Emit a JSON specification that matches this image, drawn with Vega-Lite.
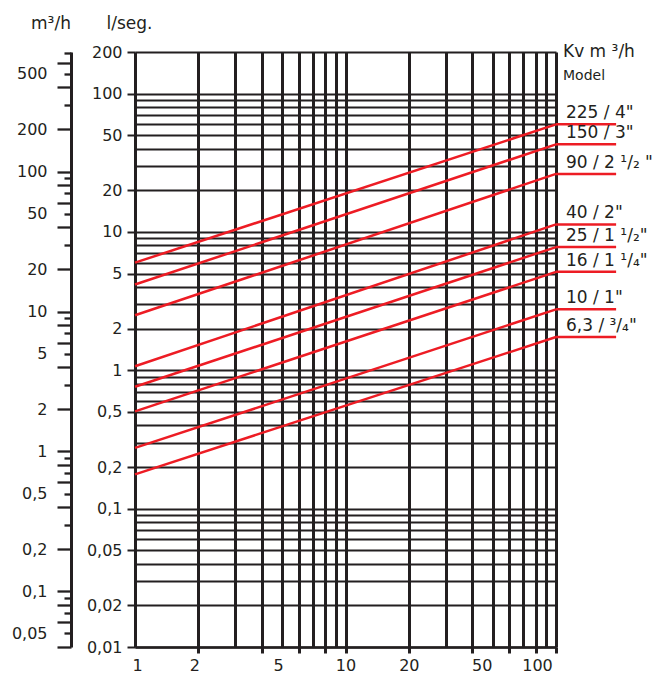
{
  "$schema": "https://vega.github.io/schema/vega-lite/v6.json",
  "width": 421,
  "height": 595,
  "autosize": {"type": "none"},
  "padding": {"left": 135, "top": 52, "right": 101, "bottom": 26},
  "background": "white",
  "config": {"view": {"stroke": null}, "font": "DejaVu Sans"},
  "title": {
    "text": "Kv m ³/h",
    "subtitle": "\u00a0\u00a0Model",
    "anchor": "start",
    "frame": "group",
    "orient": "top",
    "offset": 0,
    "dx": 428,
    "dy": 70,
    "font": "DejaVu Sans",
    "fontSize": 17,
    "fontWeight": "normal",
    "color": "#231f20",
    "subtitleFont": "DejaVu Sans",
    "subtitleFontSize": 14,
    "subtitleColor": "#231f20",
    "subtitlePadding": 8
  },
  "datasets": {
    "lines": [
      {"model": "225 / 4\"", "x": 1, "q": 6.0},
      {"model": "225 / 4\"", "x": 100, "q": 60},
      {"model": "150 / 3\"", "x": 1, "q": 4.17},
      {"model": "150 / 3\"", "x": 100, "q": 43},
      {"model": "90 / 2 ¹/₂ \"", "x": 1, "q": 2.5},
      {"model": "90 / 2 ¹/₂ \"", "x": 100, "q": 26.3},
      {"model": "40 / 2\"", "x": 1, "q": 1.07},
      {"model": "40 / 2\"", "x": 100, "q": 11.35},
      {"model": "25 / 1 ¹/₂\"", "x": 1, "q": 0.76},
      {"model": "25 / 1 ¹/₂\"", "x": 100, "q": 7.78},
      {"model": "16 / 1 ¹/₄\"", "x": 1, "q": 0.505},
      {"model": "16 / 1 ¹/₄\"", "x": 100, "q": 5.15},
      {"model": "10 / 1\"", "x": 1, "q": 0.275},
      {"model": "10 / 1\"", "x": 100, "q": 2.76},
      {"model": "6,3 / ³/₄\"", "x": 1, "q": 0.177},
      {"model": "6,3 / ³/₄\"", "x": 100, "q": 1.74}
    ],
    "m3h": [
      {"m3h": 500}, {"m3h": 200}, {"m3h": 100}, {"m3h": 50}, {"m3h": 20}, {"m3h": 10},
      {"m3h": 5}, {"m3h": 2}, {"m3h": 1}, {"m3h": 0.5}, {"m3h": 0.2}, {"m3h": 0.1}, {"m3h": 0.05}
    ]
  },
  "layer": [
    {
      "data": {"name": "lines"},
      "layer": [
        {
          "mark": {"type": "line", "color": "#ed1c24", "strokeWidth": 2.5},
          "encoding": {
            "x": {
              "field": "x",
              "type": "quantitative",
              "scale": {"type": "log", "domain": [1, 100], "nice": false},
              "axis": {
                "values": [1, 2, 3, 4, 5, 6, 7, 8, 9, 10, 20, 30, 40, 50, 60, 70, 80, 90, 100],
                "grid": true,
                "gridColor": "#231f20",
                "gridWidth": 3,
                "gridOpacity": 1,
                "domain": true,
                "domainColor": "#231f20",
                "domainWidth": 2.5,
                "ticks": true,
                "tickColor": "#231f20",
                "tickWidth": 3,
                "tickSize": 6,
                "tickOpacity": {"condition": {"test": "indexof([2,4,6,8,10,20,40,60,80,100], datum.value) >= 0", "value": 1}, "value": 0},
                "labelExpr": "indexof([1,2,5,10,20,50,100], datum.value) >= 0 ? format(datum.value, '~g') : ''",
                "labelOffset": {"expr": "datum.value == 100 ? -19 : datum.value == 50 ? -11 : datum.value == 1 ? 2 : (datum.value == 2 || datum.value == 5) ? -4 : 0"},
                "labelFont": "DejaVu Sans",
                "labelFontSize": 16,
                "labelColor": "#231f20",
                "labelPadding": 4,
                "labelBaseline": "top",
                "labelFlush": false,
                "labelOverlap": false,
                "labelBound": false,
                "title": null
              }
            },
            "y": {
              "field": "q",
              "type": "quantitative",
              "scale": {"type": "log", "domain": [0.01, 200], "nice": false},
              "axis": {
                "orient": "left",
                "values": [0.01, 0.02, 0.03, 0.04, 0.05, 0.06, 0.07, 0.08, 0.09, 0.1, 0.2, 0.3, 0.4, 0.5, 0.6, 0.7, 0.8, 0.9, 1, 2, 3, 4, 5, 6, 7, 8, 9, 10, 20, 30, 40, 50, 60, 70, 80, 90, 100, 200],
                "grid": true,
                "gridColor": "#231f20",
                "gridWidth": 2,
                "gridOpacity": 1,
                "domain": false,
                "tickSize": 8,
                "tickWidth": 2,
                "tickColor": "#231f20",
                "tickOpacity": {"condition": {"test": "indexof([0.01,0.02,0.05,0.1,0.2,0.5,1,2,5,10,20,50,100,200], datum.value) >= 0", "value": 1}, "value": 0},
                "labelExpr": "indexof([0.01,0.02,0.05,0.1,0.2,0.5,1,2,5,10,20,50,100,200], datum.value) >= 0 ? replace(format(datum.value, '~g'), '.', ',') : ''",
                "labelFont": "DejaVu Sans",
                "labelFontSize": 16,
                "labelColor": "#231f20",
                "labelPadding": 5,
                "labelBaseline": "middle",
                "labelFlush": false,
                "labelOverlap": false,
                "labelBound": false,
                "title": "l/seg.",
                "titleAngle": 0,
                "titleX": -6,
                "titleY": -24,
                "titleAlign": "center",
                "titleBaseline": "alphabetic",
                "titleFont": "DejaVu Sans",
                "titleFontSize": 17,
                "titleFontWeight": "normal",
                "titleColor": "#231f20"
              }
            },
            "detail": {"field": "model", "type": "nominal"}
          }
        },
        {
          "transform": [{"filter": "datum.x == 100"}],
          "mark": {"type": "rule", "color": "#ed1c24", "strokeWidth": 2.5},
          "encoding": {
            "x": {"datum": 100},
            "x2": {"datum": 193},
            "y": {"field": "q", "type": "quantitative"}
          }
        },
        {
          "transform": [{"filter": "datum.x == 100"}],
          "mark": {"type": "text", "align": "left", "baseline": "alphabetic", "dy": -6, "font": "DejaVu Sans", "fontSize": 17, "color": "#231f20"},
          "encoding": {
            "x": {"datum": 111.5},
            "y": {"field": "q", "type": "quantitative"},
            "text": {"field": "model", "type": "nominal"}
          }
        }
      ]
    },
    {
      "data": {"name": "m3h"},
      "mark": {"type": "point", "opacity": 0},
      "encoding": {
        "y": {
          "field": "m3h",
          "type": "quantitative",
          "scale": {"type": "log", "domain": [0.04, 716], "nice": false},
          "axis": {
            "orient": "left",
            "offset": 64,
            "values": [600, 400, 200, 100, 80, 60, 40, 20, 10, 8, 6, 4, 2, 1, 0.8, 0.6, 0.4, 0.2, 0.1, 0.08, 0.06, 0.04, 500, 50, 5, 0.5, 0.05],
            "grid": false,
            "domain": true,
            "domainColor": "#231f20",
            "domainWidth": 3,
            "tickSize": 14,
            "tickWidth": 2.3,
            "tickColor": "#231f20",
            "tickOpacity": {"condition": {"test": "indexof([500,50,5,0.5,0.05], datum.value) >= 0", "value": 0}, "value": 1},
            "labelExpr": "indexof([500,200,100,50,20,10,5,2,1,0.5,0.2,0.1,0.05], datum.value) >= 0 ? replace(format(datum.value, '~g'), '.', ',') : ''",
            "labelFont": "DejaVu Sans",
            "labelFontSize": 16,
            "labelColor": "#231f20",
            "labelPadding": 10,
            "labelBaseline": "middle",
            "labelFlush": false,
            "labelOverlap": false,
            "labelBound": false,
            "title": "m³/h",
            "titleAngle": 0,
            "titleX": -20.5,
            "titleY": -24,
            "titleAlign": "center",
            "titleBaseline": "alphabetic",
            "titleFont": "DejaVu Sans",
            "titleFontSize": 17,
            "titleFontWeight": "normal",
            "titleColor": "#231f20"
          }
        }
      }
    },
    {
      "data": {"name": "m3h"},
      "mark": {"type": "point", "opacity": 0},
      "encoding": {
        "y": {
          "field": "m3h",
          "type": "quantitative",
          "scale": {"type": "log", "domain": [0.04, 716], "nice": false},
          "axis": {
            "orient": "left",
            "offset": 64,
            "values": [700, 500, 300, 90, 70, 50, 30, 9, 7, 5, 3, 0.9, 0.7, 0.5, 0.3, 0.09, 0.07, 0.05],
            "grid": false,
            "domain": false,
            "tickSize": 7,
            "tickWidth": 2.3,
            "tickColor": "#231f20",
            "labels": false,
            "title": null
          }
        }
      }
    }
  ],
  "resolve": {"scale": {"y": "independent"}, "axis": {"y": "independent"}}
}
